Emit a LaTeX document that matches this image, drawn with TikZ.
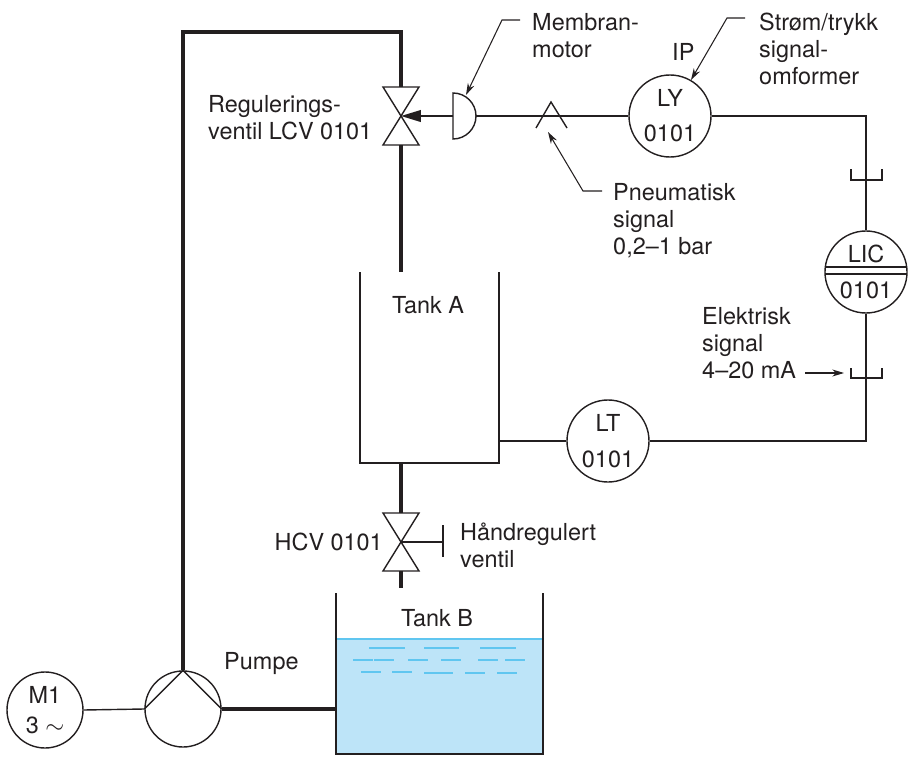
\documentclass[tikz,border=0pt]{standalone}
\usepackage{fontspec}
\setmainfont{TeX Gyre Heros}
\usetikzlibrary{calc,arrows.meta,positioning}
\definecolor{water}{RGB}{189,228,248}
\definecolor{waterline}{RGB}{96,198,240}
\definecolor{ink}{RGB}{35,31,32}
\tikzset{%
    pipe/.style={%
        draw=ink, line width=3.4pt
    },
    wire/.style={%
        draw=ink, line width=1.2pt
    },
    instrument/.style={%
        circle, draw=ink, line width=1.2pt, minimum size=2.46cm, inner sep=0pt, align=center, text=ink
    },
    motor/.style={%
        circle, draw=ink, line width=1.2pt, minimum size=2.28cm, inner sep=0pt, align=center, text=ink
    },
    txt/.style={%
        anchor=north west, align=left, inner sep=0pt, text=ink
    },
    leader/.style={%
        draw=ink, line width=0.9pt, -{Stealth[length=10pt,width=6pt]}
    },
    ripple/.style={%
        draw=waterline, line width=1.1pt
    },
}

\begin{document}
\begin{tikzpicture}[x=0.03cm, y=-0.03cm, font=\fontsize{20}{23}\selectfont]

    \useasboundingbox (0,0) rectangle (910,757);

    % equipment
    \node[motor] (pump) at (183,709) {};
    \node[motor] (m1) at (45,710) {M1\\[2.5pt]3 $\sim$};
    \draw[wire] (pump.west) -- (pump.north) -- (pump.east);
    \draw[wire] (m1.east) -- (pump.west);

    \coordinate (lcv) at (401,116);
    \coordinate (hcv) at (401,542);
    \draw[wire] ($(lcv)+(-18,-29)$) -- ($(lcv)+(18,-29)$) -- ($(lcv)+(-18,29)$) -- ($(lcv)+(18,29)$) -- cycle;
    \draw[wire] ($(hcv)+(-18,-29)$) -- ($(hcv)+(18,-29)$) -- ($(hcv)+(-18,29)$) -- ($(hcv)+(18,29)$) -- cycle;
    \draw[wire] (hcv) -- (443,542) (443,525) -- (443,557);

    \coordinate (mem) at (453,116);
    \draw[wire] (453,139) arc[start angle=90, end angle=-90, radius=23] -- cycle;
    \draw[wire, line width=1.4pt, -{Triangle[length=17pt,width=10pt]}] (mem) -- (lcv);

    % tanks
    \draw[wire] (360,272) -- (360,463) -- (499,463) -- (499,272);
    \node[text=ink] (tankA) at (428,305) {Tank A};

    \fill[water] (336,639) rectangle (543,754);
    \draw[waterline, line width=1.4pt] (336,639) -- (543,639);
    \foreach \xa/\xb/\yy in {369/405/648, 424/459/648, 480/516/648,
                             353/373/660, 374/394/660, 408/428/660, 441/461/660, 478/498/660, 505/525/660,
                             361/381/672, 392/412/672, 424/453/673, 465/485/673, 497/517/673}
        \draw[ripple] (\xa,\yy) -- (\xb,\yy);
    \draw[wire] (336,593) -- (336,754) -- (543,754) -- (543,593);
    \node[text=ink] (tankB) at (437,618) {Tank B};

    % pipes
    \draw[pipe] (pump.north) -- (183,32) -- (401,32) -- ($(lcv)+(0,-29)$);
    \draw[pipe] ($(lcv)+(0,29)$) -- (401,272);
    \draw[pipe] (401,463) -- ($(hcv)+(0,-29)$);
    \draw[pipe] ($(hcv)+(0,29)$) -- (401,588);
    \draw[pipe] (pump.east) -- (336,709);

    % instruments
    \node[instrument] (ly) at (670,116) {LY\\[6.8pt]0101};
    \node[instrument] (lic) at (866,272) {LIC\\[7.6pt]0101};
    \node[instrument] (lt) at (608,441) {LT\\[8pt]0101};
    \draw[wire] ($(lic.center)+(-40.7,-5)$) -- ($(lic.center)+(40.7,-5)$);
    \draw[wire] ($(lic.center)+(-40.7,2)$) -- ($(lic.center)+(40.7,2)$);

    % signal lines
    \draw[wire] (476,116) -- (ly.west);
    \draw[wire] (536,128) -- (551,102) -- (567,128);
    \draw[wire] (ly.east) -- (866,116) -- (lic.north);
    \draw[wire] (lic.south) -- (866,441) -- (lt.east);
    \draw[wire] (lt.west) -- (499,441);
    \draw[wire] (851,169) -- (851,180) -- (882,180) -- (882,169);
    \draw[wire] (851,368) -- (851,378) -- (882,378) -- (882,368);

    % labels
    \node[txt] (lcvtxt) at (208,95) {Regulerings-\\ventil LCV 0101};
    \node[txt, anchor=east] (hcvtxt) at (383,542) {HCV 0101};
    \node[txt] (hand) at (460,523) {Håndregulert\\ventil};
    \node[txt] (pumpe) at (224,652) {Pumpe};
    \node[txt] (membran) at (532,13) {Membran-\\motor};
    \node[txt] (ip) at (672,43) {IP};
    \node[txt] (omf) at (759,13) {Strøm/trykk\\signal-\\omformer};
    \node[txt] (pneu) at (613,183) {Pneumatisk\\signal\\0,2–1 bar};
    \node[txt] (elek) at (702,307) {Elektrisk\\signal\\4–20 mA};

    \draw[leader] (520,20) -- (502,20) -- (466,95);
    \draw[leader] (745,18) -- (727,18) -- (691,80);
    \draw[leader] (602,191) -- (583,191) -- (548,132);
    \draw[leader] (805,373) -- (844,373);

\end{tikzpicture}
\end{document}
